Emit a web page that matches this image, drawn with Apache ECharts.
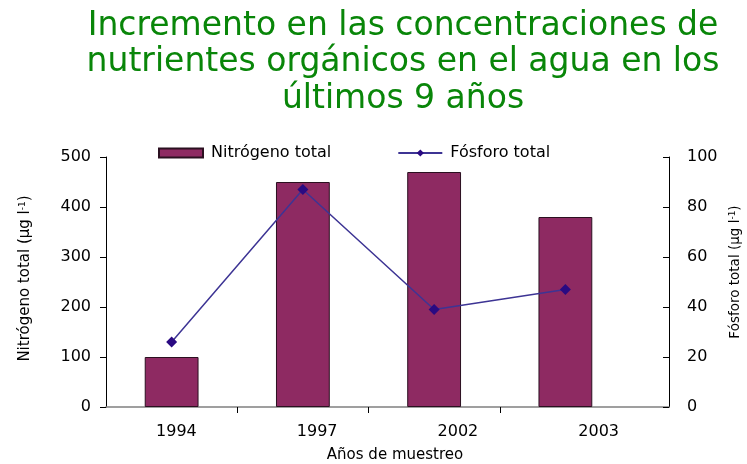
<!DOCTYPE html>
<html><head><meta charset="utf-8">
<script src="https://cdn.jsdelivr.net/npm/echarts@6/dist/echarts.min.js"></script>
<style>html,body{margin:0;padding:0;background:#fff}#c{width:747px;height:464px}</style>
</head><body><div id="c"></div>
<script>
const categories = ['1994', '1997', '2002', '2003'];
const nitrogeno = [100, 450, 470, 380];
const fosforo = [26, 87, 39, 47];
const titleText = 'Incremento en las concentraciones de\nnutrientes orgánicos en el agua en los\núltimos 9 años';
const leftAxis = {min: 0, max: 500, interval: 100};
const rightAxis = {min: 0, max: 100, interval: 20};

const FF = 'DejaVu Sans';
const W = 747;
const g0 = {left: 106, width: 525};
const band = g0.width / categories.length;
const midCats = categories.slice(1).map(() => '');

const chart = echarts.init(document.getElementById('c'));
chart.setOption({
  animation: false,
  title: {
    text: titleText, left: 398, top: 3, textAlign: 'center',
    textStyle: {fontFamily: FF, fontSize: 33, fontWeight: 'normal', color: '#098609', lineHeight: 36.5, align: 'center'}
  },
  legend: {
    left: 158, top: 145, padding: 0, itemWidth: 44, itemHeight: 9, itemGap: 66,
    textStyle: {fontFamily: FF, fontSize: 16, color: '#000', padding: [0, 0, 0, 3]},
    data: [{name: 'Nitrógeno total', icon: 'rect'}, {name: 'Fósforo total'}]
  },
  grid: [
    {left: g0.left, right: W - g0.left - g0.width, top: 157, bottom: 57, outerBoundsMode: 'none', containLabel: false},
    {left: g0.left, right: 78, top: 157, bottom: 57, outerBoundsMode: 'none', containLabel: false},
    {left: g0.left + band, right: W - (g0.left + 3 * band), top: 157, bottom: 57, outerBoundsMode: 'none', containLabel: false}
  ],
  xAxis: [
    {gridIndex: 0, type: 'category', data: categories, axisLine: {show: false}, axisTick: {show: false}, axisLabel: {show: false}},
    {gridIndex: 1, type: 'category', data: categories, position: 'bottom',
      axisLine: {onZero: false, lineStyle: {color: '#808080', width: 1.5}}, axisTick: {show: false},
      axisLabel: {margin: 17, fontFamily: FF, fontSize: 16, color: '#000'},
      name: 'Años de muestreo', nameLocation: 'middle', nameGap: 41,
      nameTextStyle: {fontFamily: FF, fontSize: 15, color: '#000', padding: [0, 0, 0, 15]}},
    {gridIndex: 2, type: 'category', data: midCats, boundaryGap: false, position: 'bottom',
      axisLine: {show: false, onZero: false}, axisLabel: {show: false},
      axisTick: {show: true, length: 6, lineStyle: {color: '#000'}}}
  ],
  yAxis: [
    {gridIndex: 0, type: 'value', position: 'left', min: leftAxis.min, max: leftAxis.max, interval: leftAxis.interval,
      axisLine: {show: true, lineStyle: {color: '#000'}}, axisTick: {show: true, length: 6, lineStyle: {color: '#000'}},
      splitLine: {show: false},
      axisLabel: {margin: 15, fontFamily: FF, fontSize: 16, color: '#000'},
      name: 'Nitrógeno total (µg l{sup|-1})', nameLocation: 'middle', nameGap: 73,
      nameTextStyle: {fontFamily: FF, fontSize: 15, color: '#000', padding: [0, 0, 0, 7],
        rich: {sup: {fontFamily: FF, fontSize: 9, color: '#000', verticalAlign: 'top', padding: [0, 0, 6, 0]}}}},
    {gridIndex: 0, type: 'value', position: 'right', offset: 38, min: rightAxis.min, max: rightAxis.max, interval: rightAxis.interval,
      axisLine: {show: true, lineStyle: {color: '#000'}}, axisTick: {show: true, inside: true, length: 6, lineStyle: {color: '#000'}},
      splitLine: {show: false},
      axisLabel: {margin: 18, fontFamily: FF, fontSize: 16, color: '#000'},
      name: 'Fósforo total (µg l{sup|-1})', nameLocation: 'middle', nameGap: 55,
      nameTextStyle: {fontFamily: FF, fontSize: 13.5, color: '#000', padding: [0, 0, 0, 20],
        rich: {sup: {fontFamily: FF, fontSize: 9, color: '#000', verticalAlign: 'top', padding: [0, 0, 6, 0]}}}},
    {gridIndex: 1, type: 'value', show: false, min: leftAxis.min, max: leftAxis.max},
    {gridIndex: 2, type: 'value', show: false, min: leftAxis.min, max: leftAxis.max}
  ],
  series: [
    {name: 'Nitrógeno total', type: 'bar', xAxisIndex: 0, yAxisIndex: 0, data: nitrogeno, barWidth: '41%',
      itemStyle: {color: '#8e2a62', borderColor: '#2b1020', borderWidth: 1}},
    {name: 'Fósforo total', type: 'line', xAxisIndex: 0, yAxisIndex: 1, data: fosforo,
      symbol: 'diamond', symbolSize: 11,
      lineStyle: {color: '#3d3494', width: 1.5},
      itemStyle: {color: '#2a0a82'}}
  ]
});
</script></body></html>
